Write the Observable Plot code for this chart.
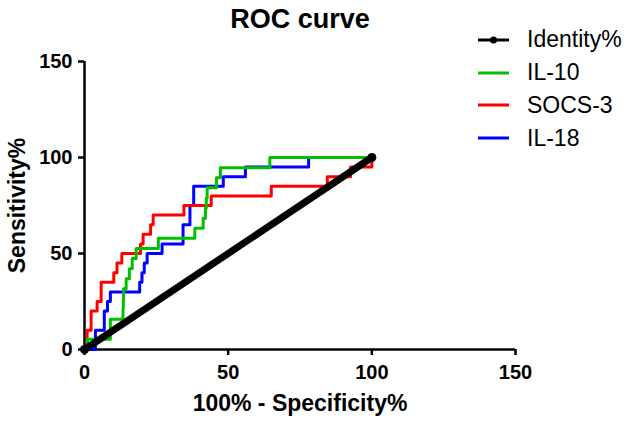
<!DOCTYPE html>
<html><head><meta charset="utf-8">
<script src="https://cdn.jsdelivr.net/npm/d3@7"></script>
<script src="https://cdn.jsdelivr.net/npm/@observablehq/plot@0.6"></script>
<style>
body{margin:0;background:#fff;}
#wrap{position:relative;width:630px;height:425px;font-family:"Liberation Sans",Arial,sans-serif;}
#legend{position:absolute;left:478px;top:23.6px;}
.row{display:flex;align-items:center;height:32.7px;}
.sw{width:31px;height:8px;margin-right:18px;display:block;}
.lab{font-size:23px;color:#000;line-height:1;}
</style></head>
<body><div id="wrap"><div id="legend"></div></div>
<script>
// Series names and colours
const seriesNames = ["Identity%", "IL-10", "SOCS-3", "IL-18"];
const seriesColors = ["#000000", "#00c000", "#ff0000", "#0000ff"];

// ROC step points [100% - Specificity%, Sensitivity%] (step-after)
const identity = [[0, 0], [100, 100]];
const il10 = [[0,0],[1,5.3],[9,10.5],[9,15.8],[13.4,21.1],[13.5,26.3],[13.6,31.6],[14.5,36.8],[15.6,42.1],[16.6,47.4],[18,52.6],[25.7,57.9],[38.4,63.2],[41.3,68.4],[42.1,73.7],[42.4,78.9],[42.7,84.2],[45.9,89.5],[47.3,94.7],[64.5,100],[100,100]];
const socs3 = [[0,0],[0.9,10],[2.3,20],[4.4,25],[5.8,35],[10.2,40],[11.3,45],[13,50],[19.5,55],[20.4,60],[23,65],[23.9,70],[34.6,75],[44.1,80],[65,85],[84.5,90],[92.6,95],[100,100]];
const il18 = [[0,0],[3.8,10],[6.9,20],[8,25],[9,30],[19.2,35],[20,40],[20.8,45],[21.8,50],[27,55],[34.3,65],[36.7,75],[38,85],[48.3,90],[56,95],[78,100],[100,100]];

// Axis ticks and texts
const xTicks = [0, 50, 100, 150];
const yTicks = [0, 50, 100, 150];
const titleText = "ROC curve";
const xLabel = "100% - Specificity%";
const yLabel = "Sensitivity%";

const fx = d => d[0], fy = d => d[1];

const chart = Plot.plot({
  width: 630, height: 425,
  marginLeft: 84, marginRight: 115, marginTop: 61, marginBottom: 76,
  style: {fontFamily: "Liberation Sans, Arial, sans-serif", fontWeight: "bold", fontSize: "20px", background: "white", color: "black", overflow: "visible"},
  x: {domain: [0, 150]},
  y: {domain: [0, 150]},
  marks: [
    Plot.axisX({ticks: xTicks, tickSize: 6, tickPadding: 9, fontSize: 20, strokeWidth: 2.5, label: null, tickFormat: d => String(d)}),
    Plot.axisY({ticks: yTicks, tickSize: 6, tickPadding: 6, fontSize: 20, strokeWidth: 2.5, label: null, tickFormat: d => String(d)}),
    Plot.ruleY([0], {stroke: "black", strokeWidth: 2.5}),
    Plot.ruleX([0], {stroke: "black", strokeWidth: 2.5}),
    Plot.line(il18, {x: fx, y: fy, curve: "step-after", stroke: seriesColors[3], strokeWidth: 3}),
    Plot.line(socs3, {x: fx, y: fy, curve: "step-after", stroke: seriesColors[2], strokeWidth: 3}),
    Plot.line(il10, {x: fx, y: fy, curve: "step-after", stroke: seriesColors[1], strokeWidth: 3}),
    Plot.line(identity, {x: fx, y: fy, stroke: seriesColors[0], strokeWidth: 7, strokeLinecap: "round"}),
    Plot.dot(identity, {x: fx, y: fy, r: 4.5, fill: seriesColors[0]}),
    Plot.text([titleText], {frameAnchor: "top", lineAnchor: "middle", dy: -42, fontSize: 27, fontWeight: "bold"}),
    Plot.text([xLabel], {frameAnchor: "bottom", lineAnchor: "middle", dy: 54, fontSize: 23, fontWeight: "bold"}),
    Plot.text([yLabel], {frameAnchor: "left", lineAnchor: "middle", dx: -67, rotate: -90, textAnchor: "middle", fontSize: 23, fontWeight: "bold"})
  ]
});
document.getElementById("wrap").prepend(chart);

// Legend
const legend = document.getElementById("legend");
seriesNames.forEach((name, i) => {
  const row = document.createElement("div");
  row.className = "row";
  const dot = i === 0 ? `<circle cx="15.5" cy="4" r="3.5" fill="${seriesColors[i]}"/>` : "";
  row.innerHTML = `<svg class="sw" width="31" height="8"><line x1="0" y1="4" x2="31" y2="4" stroke="${seriesColors[i]}" stroke-width="3"/>${dot}</svg><span class="lab">${name}</span>`;
  legend.appendChild(row);
});
</script>
</body></html>
